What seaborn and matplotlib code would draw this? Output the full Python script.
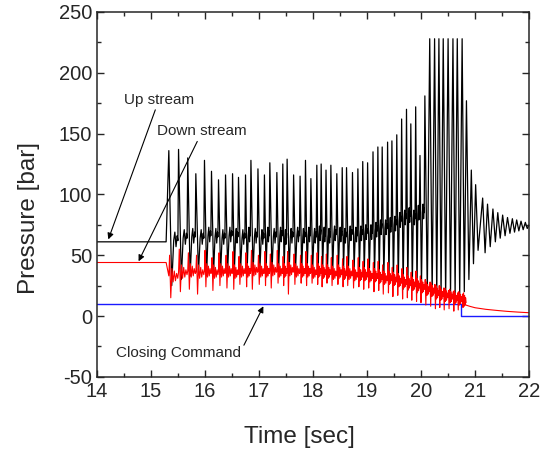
import numpy as np
import pandas as pd
import matplotlib
matplotlib.use('Agg')
import matplotlib.pyplot as plt
from matplotlib.ticker import MultipleLocator
import seaborn as sns

nan = np.nan

# quiet part before the valve starts moving
start_t = [14.0, 15.28]
up_start = [61, 61]
down_start = [44, 44]

# one entry per pressure spike
spike_t = [15.33, 15.51, 15.68, 15.83, 15.99, 16.12, 16.25, 16.38, 16.51, 16.62,
           16.75, 16.85, 16.98, 17.10, 17.20, 17.33, 17.44, 17.52, 17.64, 17.76,
           17.86, 17.96, 18.07, 18.15, 18.24, 18.33, 18.44, 18.54, 18.62, 18.73,
           18.83, 18.92, 19.01, 19.11, 19.20, 19.28, 19.38, 19.46, 19.55, 19.64,
           19.73, 19.81, 19.90, 19.98, 20.07, 20.16, 20.25, 20.33, 20.41, 20.50,
           20.59, 20.67, 20.76, 20.84, 20.93, 21.01]
up_peak = [136, 137, 130, 117, 128, 119, 112, 116, 117, 114,
           116, 128, 121, 116, 126, 118, 125, 129, 116, 115,
           128, 113, 124, 125, 120, 124, 117, 122, 122, 118,
           121, 127, 126, 135, 139, 139, 143, 144, 149, 162,
           170, 158, 172, 132, 181, 228, 228, 228, 228, 228,
           228, 228, 228, 177, 120, 108]
up_trough = [25, 30, 33, 35, 33, 36, 35, 37, 36, 38,
             37, 35, 38, 37, 36, 38, 36, 35, 38, 37,
             35, 38, 36, 37, 38, 36, 38, 37, 36, 38,
             37, 35, 34, 32, 30, 31, 28, 27, 25, 22,
             21, 23, 19, 24, 18, 17, 16, 17, 16, 17,
             16, 17, 20, 30, 43, 54]
up_base = [62, 64, 65, 64, 66, 65, 64, 66, 65, 64,
           66, 65, 64, 66, 65, 66, 64, 65, 66, 65,
           66, 65, 67, 66, 65, 67, 66, 65, 67, 66,
           67, 68, 68, 70, 72, 72, 74, 75, 78, 80,
           82, 80, 84, 85, nan, nan, nan, nan, nan, nan,
           nan, nan, nan, nan, nan, nan]

# downstream pressure per spike cycle (until the valve is shut)
down_mid = [33, 36, 37, 36, 37, 36, 37, 37, 36, 37,
            37, 38, 37, 37, 38, 37, 37, 38, 37, 37,
            37, 36, 37, 36, 36, 35, 36, 35, 35, 34,
            34, 34, 33, 33, 32, 31, 31, 30, 29, 28,
            27, 26, 25, 24, 22, 21, 19, 18, 17, 16,
            15, 14, 13]
down_hi = [50, 55, 52, 50, 54, 48, 52, 50, 53, 49,
           52, 54, 50, 53, 51, 54, 49, 53, 51, 50,
           53, 50, 52, 49, 51, 48, 50, 47, 49, 46,
           48, 45, 47, 44, 45, 42, 44, 40, 42, 39,
           40, 36, 37, 33, 30, 28, 26, 25, 23, 21,
           20, 19, 18]
down_lo = [15, 20, 22, 18, 24, 21, 25, 23, 22, 26,
           24, 22, 26, 25, 23, 27, 25, 18, 26, 27,
           25, 27, 26, 24, 27, 25, 26, 24, 25, 23,
           24, 22, 23, 20, 21, 18, 19, 16, 17, 14,
           15, 13, 12, 11, 9, 8, 6, 7, 5, 6,
           4, 5, 7]

# upstream ringing after closing
tail_t = [21.06, 21.14, 21.185, 21.23, 21.28, 21.33, 21.375, 21.42, 21.465, 21.51,
          21.555, 21.60, 21.645, 21.69, 21.73, 21.77, 21.81, 21.85, 21.89, 21.93,
          21.965, 22.0]
tail_up = [54, 97, 52, 92, 57, 88, 61, 85, 64, 83,
           66, 81, 68, 80, 69, 79, 70, 78, 71, 77,
           72, 75]

# downstream decay after closing
decay_t = [20.79, 20.83, 20.90, 21.0, 21.2, 21.4, 21.6, 21.8, 22.0]
decay_down = [12, 9, 8, 6.8, 5.5, 4.6, 3.8, 3.2, 2.7]

# closing command
cmd_t = [14.0, 20.73, 20.73, 22.0]
cmd_p = [10, 10, 0, 0]

# ---- build traces
t_up, p_up = list(start_t), list(up_start)
for i, t0 in enumerate(spike_t):
    t1 = spike_t[i + 1] if i + 1 < len(spike_t) else tail_t[0] + 0.04
    dt = t1 - t0
    if np.isnan(up_base[i]):
        t_up += [t0, t0 + 0.5 * dt]
        p_up += [up_peak[i], up_trough[i]]
    else:
        b = up_base[i]
        t_up += [t0, t0 + 0.3 * dt, t0 + 0.5 * dt, t0 + 0.62 * dt, t0 + 0.74 * dt,
                 t0 + 0.86 * dt, t1 - 0.012]
        p_up += [up_peak[i], up_trough[i], b, b + 7, b - 5, b + 4, b]
t_up += tail_t[1:]
p_up += tail_up[1:]

t_dn, p_dn = list(start_t), list(down_start)
for i in range(len(down_mid)):
    t0 = spike_t[i]
    dt = spike_t[i + 1] - t0
    m = down_mid[i]
    fr = [0.0, 0.08, 0.2, 0.32, 0.44, 0.56, 0.68, 0.8, 0.92]
    vals = [m, down_hi[i], down_lo[i], m + 6, m - 5, m + 4, m - 4, m + 2, m - 2]
    t_dn += [t0 + f * dt for f in fr]
    p_dn += vals
t_dn += decay_t
p_dn += decay_down

df_up = pd.DataFrame({'t': t_up, 'p': p_up})
df_dn = pd.DataFrame({'t': t_dn, 'p': p_dn})
df_cmd = pd.DataFrame({'t': cmd_t, 'p': cmd_p})

sns.set_style('ticks')
plt.rcParams['font.family'] = ['Liberation Sans', 'DejaVu Sans']
plt.rcParams['axes.unicode_minus'] = False

fig = plt.figure(figsize=(5.47, 4.54), dpi=100)
ax = fig.add_axes([0.1773, 0.17, 0.79, 0.8036])

sns.lineplot(data=df_cmd, x='t', y='p', sort=False, estimator=None, color='#1a1aff', lw=1.0, ax=ax)
sns.lineplot(data=df_up, x='t', y='p', sort=False, estimator=None, color='black', lw=0.9, ax=ax)
sns.lineplot(data=df_dn, x='t', y='p', sort=False, estimator=None, color='#ff0000', lw=0.8, ax=ax)

ax.set_xlim(14, 22)
ax.set_ylim(-50, 250)
ax.xaxis.set_major_locator(MultipleLocator(1))
ax.xaxis.set_minor_locator(MultipleLocator(0.5))
ax.yaxis.set_major_locator(MultipleLocator(50))
ax.yaxis.set_minor_locator(MultipleLocator(25))
ax.tick_params(which='both', direction='in', top=True, right=True, width=1, labelsize=14.5)
ax.tick_params(which='major', length=5)
ax.tick_params(which='minor', length=3)
for s in ax.spines.values():
    s.set_linewidth(1.1)
    s.set_visible(True)

ax.set_xlabel('Time [sec]', fontsize=17.5, va='center')
ax.set_ylabel('Pressure [bar]', fontsize=17.5, va='center')
ax.xaxis.set_label_coords(0.468, -0.165)
ax.yaxis.set_label_coords(-0.158, 0.435)

arr = dict(arrowstyle='-|>', color='black', lw=0.8, mutation_scale=9, shrinkA=0, shrinkB=0)
ax.annotate('Up stream', xy=(14.21, 63), xytext=(14.5, 178), fontsize=11, va='center', ha='left',
            arrowprops=arr)
ax.annotate('Down stream', xy=(14.77, 45), xytext=(15.12, 152), fontsize=11, va='center', ha='left',
            arrowprops=arr)
ax.annotate('', xy=(17.08, 8), xytext=(16.72, -24), arrowprops=arr)
ax.text(14.36, -30.5, 'Closing Command', fontsize=11, va='center', ha='left')

plt.savefig('out.png', dpi=100)
